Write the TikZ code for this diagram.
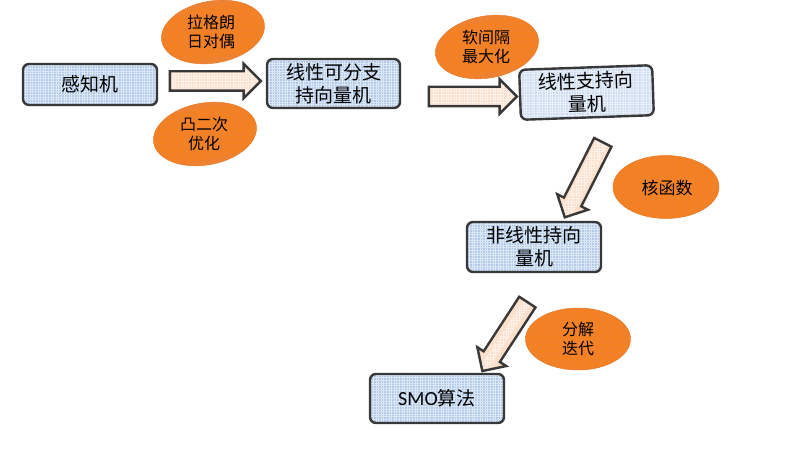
\documentclass[tikz,border=0pt]{standalone}
\usepackage{fontspec}
\newfontfamily\cjk{Noto Sans CJK SC}
\newfontfamily\lat{Carlito}
\usetikzlibrary{shapes.geometric,shapes.arrows,calc,patterns.meta}
\definecolor{boxblue}{HTML}{B2C9EA}
\definecolor{boxlight}{HTML}{CCDBF0}
\definecolor{orangefill}{HTML}{EE8232}
\definecolor{orangeedge}{HTML}{E87A2A}
\definecolor{arrowfill}{HTML}{FCE0CC}
\definecolor{edge}{HTML}{383838}
\tikzdeclarepattern{name=finegrid, type=uncolored,
  bottom left={(-.1pt,-.1pt)}, top right={(2.6pt,2.6pt)}, tile size={(2.6pt,2.6pt)},
  code={\draw[line width=0.4pt] (0,1.3pt) -- (2.6pt,1.3pt) (1.3pt,0) -- (1.3pt,2.6pt);}}
\newcommand\blockarrow[3]{%
  \path let \p1=(#2), \p2=(#3),
    \n1={atan2(\y2-\y1,\x2-\x1)}, \n2={veclen(\x2-\x1,\y2-\y1)} in
    node[barrow, minimum height=\n2, rotate=\n1] (#1) at ($(#2)!0.5!(#3)$) {};}
\begin{document}
\begin{tikzpicture}[x=1pt,y=-1pt,
  texture/.style={path picture={\fill[pattern=finegrid, pattern color=#1]
    (path picture bounding box.south west) rectangle (path picture bounding box.north east);}},
  box/.style={draw=edge, line width=2.4pt, rounded corners=6pt, fill=boxblue,
    texture=white!55!boxblue,
    align=center, inner sep=0pt, font=\cjk\fontsize{19}{23}\selectfont},
  oval/.style={ellipse, fill=orangefill, draw=orangeedge, line width=0.5pt,
    texture=orange!40!orangefill, inner sep=0pt},
  ovaltext/.style={align=center, inner sep=0pt, font=\cjk\fontsize{16}{19}\selectfont},
  barrow/.style={single arrow, draw=edge, line width=2.4pt, fill=arrowfill,
    texture=white!55!arrowfill,
    inner xsep=0pt, inner ysep=8.5pt, single arrow head extend=7.5pt}]
\useasboundingbox (0,0) rectangle (789,457);

% boxes
\node[box, minimum width=134pt, minimum height=41pt] (b1) at (90,84.5) {感知机};
\node[box, minimum width=133pt, minimum height=49pt] (b2) at (333.5,83.5) {线性可分支\\持向量机};
\node[box, fill=boxlight, texture=white!55!boxlight, minimum width=133pt, minimum height=50pt, rotate=2] (b3) at (586.5,92.5) {线性支持向\\量机};
\node[box, minimum width=134pt, minimum height=50pt] (b4) at (534,247) {非线性持向\\量机};
\node[box, minimum width=134pt, minimum height=49pt] (b5) at (437,398.5) {{\lat\fontsize{20}{23}\selectfont SMO}算法};

% ellipses
\node[oval, minimum width=104pt, minimum height=62pt, rotate=10] (e1) at (213,32) {};
\node[ovaltext] (t1) at (211,32) {拉格朗\\日对偶};
\node[oval, minimum width=104pt, minimum height=62pt, rotate=10] (e2) at (205,134) {};
\node[ovaltext] (t2) at (204,134) {凸二次\\优化};
\node[oval, minimum width=104pt, minimum height=62pt, rotate=10] (e3) at (487,47) {};
\node[ovaltext] (t3) at (486,47) {软间隔\\最大化};
\node[oval, minimum width=106pt, minimum height=63pt] (e4) at (666,187) {};
\node[ovaltext, font=\cjk\fontsize{17}{19}\selectfont] (t4) at (667,188) {核函数};
\node[oval, minimum width=105pt, minimum height=62pt] (e5) at (578,339) {};
\node[ovaltext] (t5) at (578,339) {分解\\迭代};

% block arrows
\coordinate (a1s) at (165,81);
\coordinate (a1e) at (256,81);
\coordinate (a2s) at (424,96.5);
\coordinate (a2e) at (512,96.5);
\coordinate (a3s) at (605,138);
\coordinate (a3e) at (567,213);
\coordinate (a4s) at (530,298);
\coordinate (a4e) at (485,367);
\blockarrow{arr1}{a1s}{a1e}
\blockarrow{arr2}{a2s}{a2e}
\blockarrow{arr3}{a3s}{a3e}
\blockarrow{arr4}{a4s}{a4e}
\end{tikzpicture}
\end{document}
